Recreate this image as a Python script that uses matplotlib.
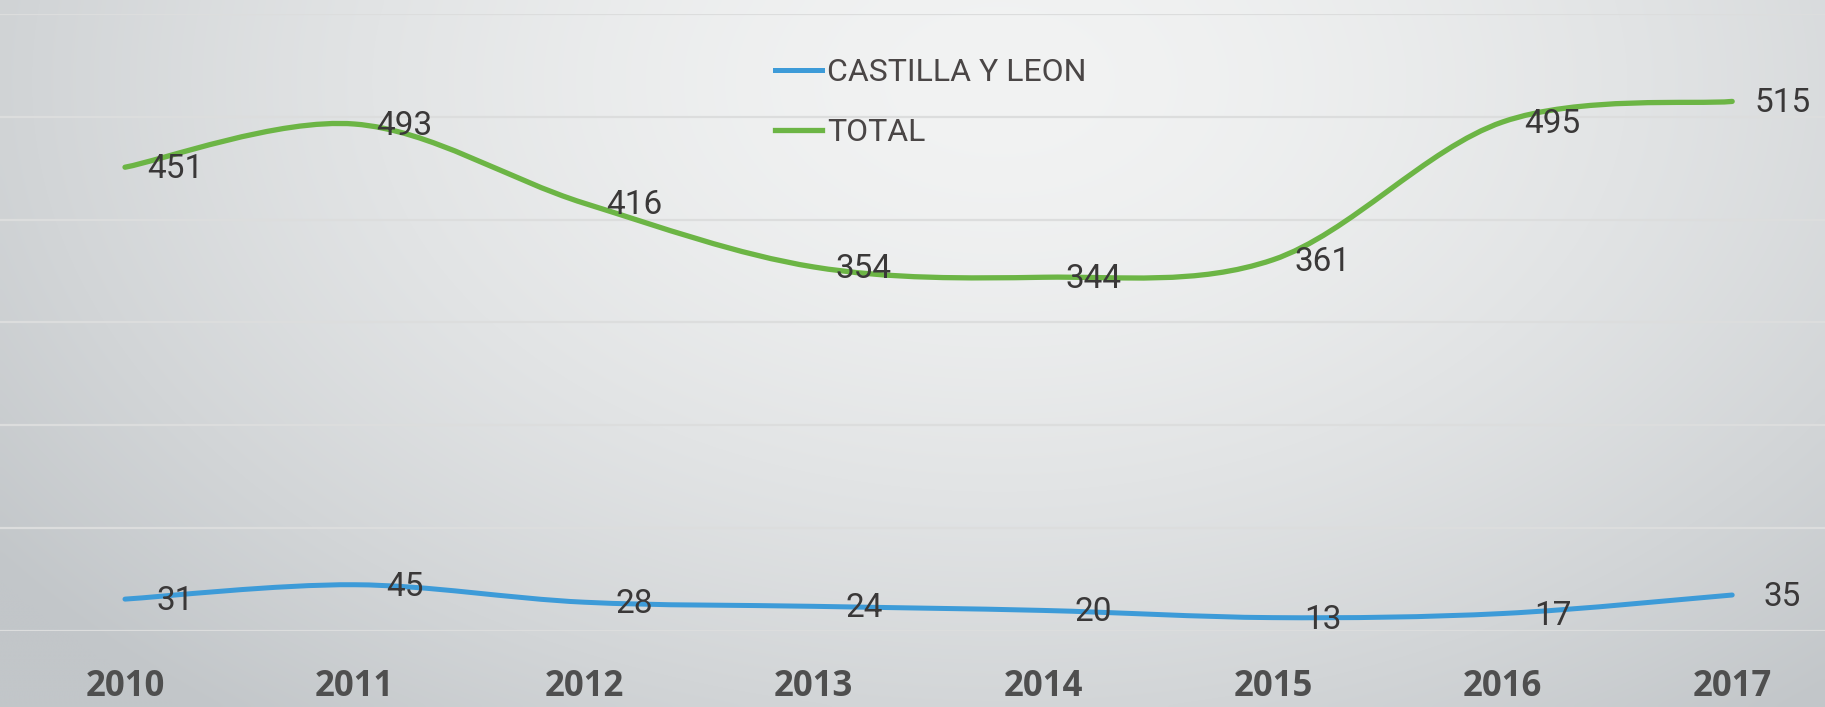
import numpy as np
import matplotlib
matplotlib.use("Agg")
import matplotlib.pyplot as plt
from matplotlib.path import Path
from matplotlib.patches import PathPatch
from matplotlib.lines import Line2D

years = ["2010", "2011", "2012", "2013", "2014", "2015", "2016", "2017"]
castilla = [31, 45, 28, 24, 20, 13, 17, 35]
total = [451, 493, 416, 354, 344, 361, 495, 515]

green = "#6cb545"
blue = "#3d9bd8"
text_col = "#3a3838"

def smooth_path(xs, ys):
	# excel-like smooth line: catmull-rom turned into cubic bezier segments
	pts = np.column_stack([xs, ys]).astype(float)
	n = len(pts)
	verts = [pts[0]]
	codes = [Path.MOVETO]
	for i in range(n - 1):
		p0 = pts[max(i - 1, 0)]
		p1 = pts[i]
		p2 = pts[i + 1]
		p3 = pts[min(i + 2, n - 1)]
		c1 = p1 + (p2 - p0) / 6.0
		c2 = p2 - (p3 - p1) / 6.0
		verts += [c1, c2, p2]
		codes += [Path.CURVE4] * 3
	return Path(verts, codes)

W, H = 1825, 707
fig = plt.figure(figsize=(W / 100, H / 100), dpi=100)

# background gradient
bg = fig.add_axes([0, 0, 1, 1], zorder=-5)
gx, gy = np.meshgrid(np.linspace(0, W, 365), np.linspace(0, H, 142))
t = np.sqrt(((gx - 1000) / 1250.0) ** 2 + ((gy - 80) / 820.0) ** 2)
t = np.clip(t, 0, 1) ** 1.6
light = np.array([0xf2, 0xf3, 0xf3]) / 255.0
dark = np.array([0xc2, 0xc6, 0xc9]) / 255.0
img = light[None, None, :] * (1 - t[..., None]) + dark[None, None, :] * t[..., None]
bg.imshow(img, aspect="auto", extent=[0, W, H, 0], interpolation="bicubic")
bg.axis("off")

ax = fig.add_axes([0, (H - 631) / H, 1, (631 - 14) / H])
ax.patch.set_alpha(0)
x = np.arange(len(years))
x0 = -125 / 229.6
ax.set_xlim(x0, x0 + W / 229.6)
ax.set_ylim(0, 600)

for vals, col, lw in [(castilla, blue, 3.6), (total, green, 3.8)]:
	ax.add_patch(PathPatch(smooth_path(x, vals), facecolor="none", edgecolor=col,
		lw=lw, capstyle="round", zorder=3))
	for xi, v in zip(x, vals):
		ax.annotate(str(v), (xi, v), xytext=(50, -2), textcoords="offset pixels",
			ha="center", va="center", fontsize=24, fontfamily="Roboto",
			color=text_col, zorder=4)

ax.set_yticks(range(0, 601, 100))
ax.yaxis.grid(True, color="#dcdddd", lw=1.6)
ax.set_axisbelow(True)
ax.tick_params(axis="y", left=False, labelleft=False)
ax.set_xticks(x)
ax.set_xticklabels(years, fontsize=25, fontweight="bold", fontfamily="Open Sans", color="#4f4f4f")
ax.tick_params(axis="x", length=0, pad=27)
for s in ax.spines.values():
	s.set_visible(False)

handles = [Line2D([], [], color=blue, lw=3.6), Line2D([], [], color=green, lw=3.8)]
fig.legend(handles, ["CASTILLA Y LEON", "TOTAL"], loc="upper left",
	bbox_to_anchor=(775 / W, (H - 58) / H), frameon=False, handlelength=1.47,
	handletextpad=0.16, labelspacing=0.97, borderpad=0, borderaxespad=0,
	prop={"family": "Roboto", "size": 23}, labelcolor="#4a4646")

fig.savefig("out.png", dpi=100)
